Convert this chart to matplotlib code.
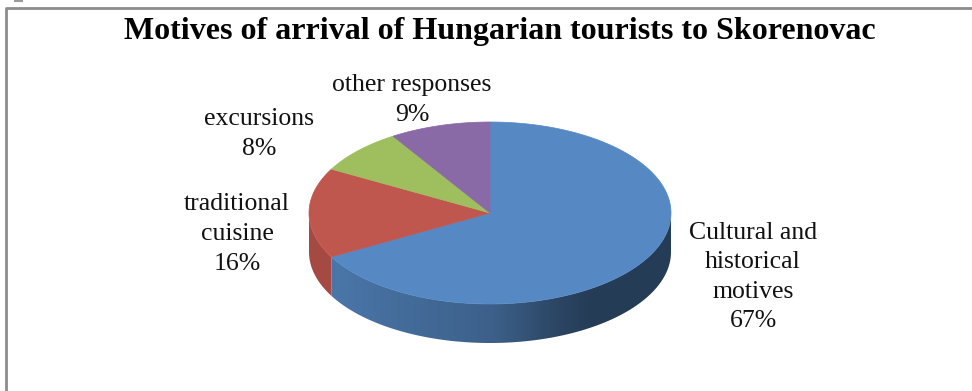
import numpy as np
import matplotlib.pyplot as plt
from matplotlib.patches import Polygon

plt.rcParams['font.family'] = ['Liberation Serif', 'DejaVu Serif']

categories = ['Cultural and\nhistorical\nmotives', 'traditional\ncuisine', 'excursions', 'other responses']
shares = [67, 16, 8, 9]
top_colors = ['#5689c4', '#c0574f', '#9fbf5f', '#8a6aa6']
label_xy = [(753, 277), (237, 234), (259, 134), (412, 100)]

# pie geometry in pixels
cx, cy = 490, 213
ra, rb = 181, 91
depth = 39

fig = plt.figure(figsize=(9.72, 3.91), dpi=100)
ax = fig.add_axes([0, 0, 1, 1])
ax.set_xlim(0, 972)
ax.set_ylim(391, 0)
ax.axis('off')


def shade(hexcol, f):
    rgb = np.array(plt.matplotlib.colors.to_rgb(hexcol))
    return np.clip(rgb * f, 0, 1)


# brightness of the side wall across the x range
wall_x = [309, 333, 493, 560, 590, 672]
wall_f = [0.86, 0.86, 0.70, 0.50, 0.44, 0.44]

total = sum(shares)
start = np.pi / 2
bounds = []
for v in shares:
    end = start - 2 * np.pi * v / total
    bounds.append((start, end))
    start = end

# side walls (front half only), filled with a horizontal gradient
for (t0, t1), col in zip(bounds, top_colors):
    lo, hi = min(t0, t1), max(t0, t1)
    for k in (-1, 0, 1):
        a0 = max(lo + 2 * np.pi * k, np.pi)
        a1 = min(hi + 2 * np.pi * k, 2 * np.pi)
        if a1 <= a0:
            continue
        ts = np.linspace(a0, a1, 200)
        xs = cx + ra * np.cos(ts)
        ys = cy - rb * np.sin(ts)
        pts = np.column_stack([np.r_[xs, xs[::-1]], np.r_[ys, ys[::-1] + depth]])
        wall = Polygon(pts, closed=True, facecolor='none', edgecolor='none')
        ax.add_patch(wall)
        gx = np.linspace(cx - ra, cx + ra, 400)
        grad = np.array([shade(col, np.interp(x, wall_x, wall_f)) for x in gx])[None, :, :]
        im = ax.imshow(grad, extent=[cx - ra, cx + ra, cy + rb + depth + 2, cy - 2],
                       aspect='auto', interpolation='bilinear', zorder=1)
        im.set_clip_path(wall)

# top face
for (t0, t1), col in zip(bounds, top_colors):
    ts = np.linspace(t0, t1, 200)
    xs = cx + ra * np.cos(ts)
    ys = cy - rb * np.sin(ts)
    pts = np.column_stack([np.r_[cx, xs], np.r_[cy, ys]])
    ax.add_patch(Polygon(pts, closed=True, facecolor=col, edgecolor=col, lw=0.5, zorder=2))

ax.set_xlim(0, 972)
ax.set_ylim(391, 0)

# data labels
for name, v, (lx, ly) in zip(categories, shares, label_xy):
    ax.text(lx, ly, f'{name}\n{v}%', ha='center', va='center', fontsize=18.5,
            color='#111111', linespacing=1.45, zorder=3)

ax.text(500, 32, 'Motives of arrival of Hungarian tourists to Skorenovac',
        ha='center', va='center', fontsize=23, fontweight='bold', color='black', zorder=3)

# chart frame
ax.plot([6, 6, 972], [391, 8, 8], color='#8c8c8c', lw=2, solid_capstyle='butt', zorder=3)
ax.plot([15, 22], [0.5, 0.5], color='#9a9a9a', lw=1.5, zorder=3)

fig.savefig('out.png', dpi=100)
